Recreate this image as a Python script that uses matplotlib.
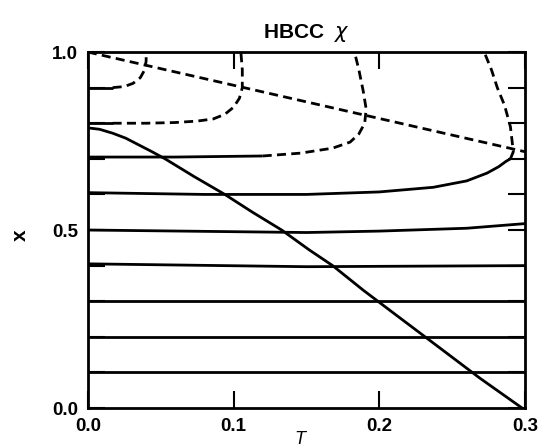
import numpy as np
import matplotlib
matplotlib.use("Agg")
import matplotlib.pyplot as plt
from matplotlib.ticker import MultipleLocator

plt.rcParams['font.family'] = ['Liberation Sans', 'DejaVu Sans']
plt.rcParams['lines.scale_dashes'] = False

# chi contours, (T, x) points; solid piece then dashed piece
chi09_solid_T = [0.0, 0.017]
chi09_solid_x = [0.90, 0.90]
chi09_dash_T = [0.017, 0.025, 0.031, 0.036, 0.039, 0.040, 0.040]
chi09_dash_x = [0.90, 0.903, 0.912, 0.928, 0.95, 0.975, 1.0]

chi08_solid_T = [0.0, 0.017]
chi08_solid_x = [0.80, 0.80]
chi08_dash_T = [0.017, 0.04, 0.06, 0.075, 0.086, 0.094, 0.100, 0.104, 0.106, 0.106, 0.105]
chi08_dash_x = [0.80, 0.80, 0.802, 0.806, 0.812, 0.825, 0.845, 0.87, 0.90, 0.95, 1.0]

chi07_solid_T = [0.0, 0.06, 0.12]
chi07_solid_x = [0.705, 0.705, 0.708]
chi07_dash_T = [0.12, 0.146, 0.168, 0.18, 0.186, 0.190, 0.191, 0.189, 0.186, 0.183]
chi07_dash_x = [0.708, 0.716, 0.73, 0.747, 0.77, 0.80, 0.84, 0.89, 0.95, 1.0]

chi06_solid_T = [0.0, 0.08, 0.15, 0.2, 0.237, 0.26, 0.274, 0.282, 0.287, 0.29]
chi06_solid_x = [0.605, 0.60, 0.60, 0.607, 0.62, 0.638, 0.66, 0.678, 0.693, 0.70]
chi06_dash_T = [0.29, 0.292, 0.290, 0.286, 0.281, 0.277, 0.272]
chi06_dash_x = [0.70, 0.72, 0.79, 0.85, 0.90, 0.95, 1.0]

chi05_T = [0.0, 0.15, 0.2, 0.26, 0.3]
chi05_x = [0.50, 0.493, 0.497, 0.505, 0.518]
chi04_T = [0.0, 0.15, 0.3]
chi04_x = [0.405, 0.397, 0.40]
flat_levels = [0.3, 0.2, 0.1]

# phase boundary
bound_T = [0.0, 0.008, 0.017, 0.026, 0.035, 0.044, 0.053, 0.073, 0.094,
           0.113, 0.133, 0.152, 0.168, 0.189, 0.21, 0.235, 0.269, 0.298]
bound_x = [0.787, 0.783, 0.772, 0.758, 0.739, 0.72, 0.70, 0.65, 0.60,
           0.55, 0.50, 0.444, 0.40, 0.331, 0.266, 0.189, 0.084, 0.0]

# dashed diagonal
diag_T = [0.0, 0.3]
diag_x = [1.0, 0.72]

fig = plt.figure(figsize=(5.39, 4.47), dpi=100)
ax = fig.add_axes([0.163, 0.0872, 0.811, 0.7964])

lw = 2.0
dash = (0, (6.5, 3.8))
kw = dict(color='black', lw=lw, solid_capstyle='butt', solid_joinstyle='round')

for sT, sx, dT, dx in [(chi09_solid_T, chi09_solid_x, chi09_dash_T, chi09_dash_x),
                       (chi08_solid_T, chi08_solid_x, chi08_dash_T, chi08_dash_x),
                       (chi07_solid_T, chi07_solid_x, chi07_dash_T, chi07_dash_x),
                       (chi06_solid_T, chi06_solid_x, chi06_dash_T, chi06_dash_x)]:
    ax.plot(sT, sx, **kw)
    ax.plot(dT, dx, ls=dash, **kw)

ax.plot(chi05_T, chi05_x, **kw)
ax.plot(chi04_T, chi04_x, **kw)
for lev in flat_levels:
    ax.plot([0.0, 0.3], [lev, lev], **kw)

ax.plot(bound_T, bound_x, **kw)
ax.plot(diag_T, diag_x, ls=dash, **kw)

ax.set_xlim(0, 0.3)
ax.set_ylim(0, 1.0)
ax.set_xticks([0.0, 0.1, 0.2, 0.3])
ax.set_xticklabels(['0.0', '0.1', '0.2', '0.3'])
ax.set_yticks([0.0, 0.5, 1.0])
ax.set_yticklabels(['0.0', '0.5', '1.0'])
ax.yaxis.set_minor_locator(MultipleLocator(0.1))
ax.tick_params(which='both', direction='in', top=True, right=True,
               length=12, width=1.5, labelsize=13.5, pad=7)
for lab in ax.get_xticklabels() + ax.get_yticklabels():
    lab.set_fontweight('bold')
for sp in ax.spines.values():
    sp.set_linewidth(2.0)

ax.set_title(r'HBCC  $\chi$', fontsize=15, fontweight='bold', pad=10)
fig.text(20 / 539, 1 - 235 / 447, 'x', fontsize=15, fontweight='bold',
         rotation=90, ha='center', va='center')
fig.text(300 / 539, 1 - 431 / 447, 'T', fontsize=13, style='italic',
         ha='center', va='top')

fig.savefig('out.png', dpi=100)
